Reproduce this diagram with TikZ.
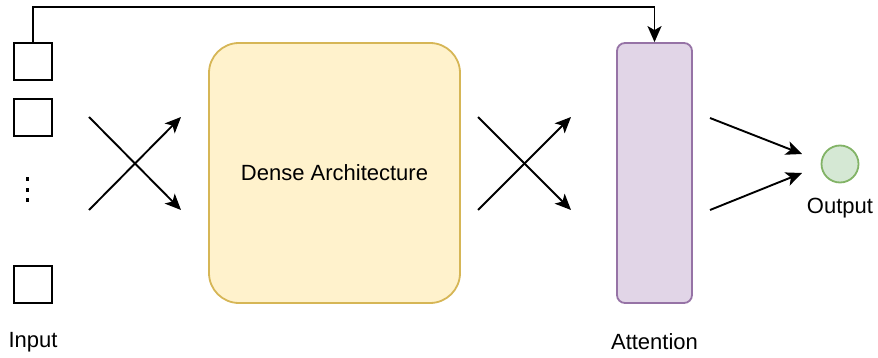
\documentclass[tikz,border=0pt]{standalone}
\usepackage{fontspec}
\setmainfont{Liberation Sans}
\usetikzlibrary{arrows.meta}
\definecolor{denseFill}{HTML}{FFF2CC}
\definecolor{denseLine}{HTML}{D6B656}
\definecolor{attFill}{HTML}{E1D5E7}
\definecolor{attLine}{HTML}{9673A6}
\definecolor{outFill}{HTML}{D5E8D4}
\definecolor{outLine}{HTML}{82B366}
\tikzset{
  inbox/.style={draw=black, line width=1.8pt, minimum width=38pt, minimum height=37pt, inner sep=0pt},
  arr/.style={line width=1.9pt, -{Stealth[length=16pt,width=14pt,inset=4pt]}},
  lbl/.style={font=\fontsize{22}{25}\selectfont, inner sep=0pt},
}
\begin{document}
\begin{tikzpicture}[x=1pt,y=-1pt]
\useasboundingbox (0,0) rectangle (878,358);
% input units
\node[inbox] (in1) at (33,61.5) {};
\node[inbox] (in2) at (33,117.5) {};
\node[inbox] (in3) at (33,284.5) {};
\foreach \y in {179,190,200} \fill (25.5,\y-1.8) rectangle ++(3.6,3.6);
\node[lbl] (inlbl) at (33,342) {Input};
% dense block
\node[draw=denseLine, fill=denseFill, line width=1.8pt, rounded corners=30pt,
      minimum width=251pt, minimum height=260pt, inner sep=0pt] (dense) at (334.5,173) {};
\node[lbl] (denselbl) at (dense.center) {Dense Architecture};
% attention block
\node[draw=attLine, fill=attFill, line width=1.8pt, rounded corners=8pt,
      minimum width=75pt, minimum height=260pt, inner sep=0pt] (att) at (654.5,173) {};
\node[lbl] (attlbl) at (654.5,342) {Attention};
% output unit
\node[circle, draw=outLine, fill=outFill, line width=1.8pt, minimum size=37pt, inner sep=0pt] (out) at (840,164) {};
\node[lbl] (outlbl) at (840,208) {Output};
% crossed connections, input side
\coordinate (a1) at (89,117); \coordinate (a2) at (181,210);
\coordinate (a3) at (89,210); \coordinate (a4) at (181,117);
\draw[arr] (a1) -- (a2);
\draw[arr] (a3) -- (a4);
% crossed connections, attention side
\coordinate (b1) at (478,117); \coordinate (b2) at (571,210);
\coordinate (b3) at (478,210); \coordinate (b4) at (571,117);
\draw[arr] (b1) -- (b2);
\draw[arr] (b3) -- (b4);
% into the output
\coordinate (c1) at (710,118); \coordinate (c2) at (802,154);
\coordinate (c3) at (710,210); \coordinate (c4) at (802,173);
\draw[arr] (c1) -- (c2);
\draw[arr] (c3) -- (c4);
% skip connection from the first input to attention
\coordinate (top) at (0,7);
\draw[arr] (in1.north) -- (in1.north |- top) -| (att.north);
\end{tikzpicture}
\end{document}
